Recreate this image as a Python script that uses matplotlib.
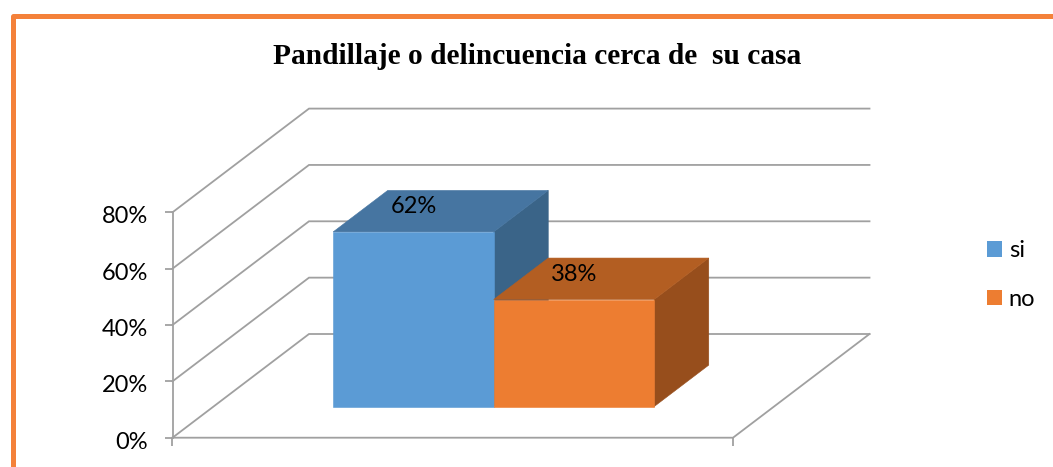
import matplotlib
matplotlib.use("Agg")
import matplotlib.pyplot as plt
from matplotlib.lines import Line2D
from matplotlib.patches import Patch, Polygon
from matplotlib.transforms import ScaledTranslation

# Data
categories = ["si", "no"]
values = [62, 38]
y_ticks = [0, 20, 40, 60, 80]
title = "Pandillaje o delincuencia cerca de  su casa"

# Style
W, H = 1053, 467
GREY = "#A0A0A0"
FRONT = ["#5B9BD5", "#ED7D31"]
TOP = ["#4675A1", "#B35E22"]
SIDE = ["#3A6488", "#974E1C"]
BORDER = "#F4813A"
SANS = "Lato"
FS = 17

fig = plt.figure(figsize=(W / 100, H / 100), dpi=100, facecolor="white")
L, R, T, B = 172.5, 733, 212.3, 437.7
ax = fig.add_axes([L / W, 1 - B / H, (R - L) / W, (B - T) / H])
ax.patch.set_visible(False)

unit_px = 160.5
pct_px = (B - T) / 80
xmin = -0.5 - (292.2 - L) / unit_px
xmax = xmin + (R - L) / unit_px
ax.set_xlim(xmin, xmax)
ax.set_ylim(0, 80)

depth_x = 136.5 / unit_px
depth_y = 103.7 / pct_px


def proj(x, y, z):
    """Oblique projection: z is depth, 0 at the front, 1 at the back wall."""
    return x + z * depth_x, y + z * depth_y


# Walls and floor
for v in y_ticks:
    pts = [proj(xmin, v, 0), proj(xmin, v, 1), proj(xmax, v, 1)]
    ax.plot(*zip(*pts), color=GREY, lw=1.3, clip_on=False, zorder=1,
            solid_joinstyle="miter")
floor = [proj(xmax, 0, 1), proj(xmax, 0, 0), proj(xmin, 0, 0)]
ax.plot(*zip(*floor), color=GREY, lw=1.3, clip_on=False, zorder=1)

# Bars
z0, z1 = 0.30, 0.70
for i, v in enumerate(values):
    x0, x1 = i - 0.5, i + 0.5
    zo = 3 + i
    faces = [
        (SIDE[i], [proj(x1, 0, z0), proj(x1, 0, z1), proj(x1, v, z1), proj(x1, v, z0)]),
        (TOP[i], [proj(x0, v, z0), proj(x1, v, z0), proj(x1, v, z1), proj(x0, v, z1)]),
        (FRONT[i], [proj(x0, 0, z0), proj(x1, 0, z0), proj(x1, v, z0), proj(x0, v, z0)]),
    ]
    for color, pts in faces:
        ax.add_patch(Polygon(pts, fc=color, ec=color, lw=0.4, clip_on=False, zorder=zo))
    ax.annotate(f"{v}%", xy=proj(i, v, z0), xytext=(0, 18.2), textcoords="offset points",
                ha="center", va="center", fontsize=FS, family=SANS, color="black", zorder=10)

# Axes furniture
for s in ("top", "right", "bottom"):
    ax.spines[s].set_visible(False)
ax.spines["left"].set_color(GREY)
ax.spines["left"].set_linewidth(1.3)
ax.set_yticks(y_ticks)
ax.set_yticklabels([f"{v}%" for v in y_ticks], fontsize=FS, family=SANS, color="black")
ax.set_xticks([xmin, xmax])
ax.set_xticklabels([])
ax.tick_params(axis="both", color=GREY, width=1.3, length=5.8, pad=12)
shift = ScaledTranslation(0, -2.5 / 100, fig.dpi_scale_trans)
for lab in ax.get_yticklabels():
    lab.set_transform(lab.get_transform() + shift)

# Legend
handles = [Patch(fc=FRONT[i], ec="none", label=c) for i, c in enumerate(categories)]
fig.legend(handles=handles, loc="upper left", bbox_to_anchor=(987 / W, 1 - 240 / H),
           borderaxespad=0, borderpad=0, frameon=False, handlelength=0.64, handleheight=0.64,
           handletextpad=0.28, labelspacing=1.18, prop={"family": SANS, "size": FS})

# Title
fig.text(537.5 / W, 1 - 56 / H, title, ha="center", va="center", fontsize=21.2,
         family="Liberation Serif", fontweight="bold", color="black")

# Orange frame, running off the top right and bottom left
fig.add_artist(Line2D([13.3 / W, 13.3 / W, 1], [0, 1 - 15.5 / H, 1 - 15.5 / H],
                      color=BORDER, lw=3.6, solid_joinstyle="round", solid_capstyle="butt"))

fig.savefig("out.png", dpi=100)
